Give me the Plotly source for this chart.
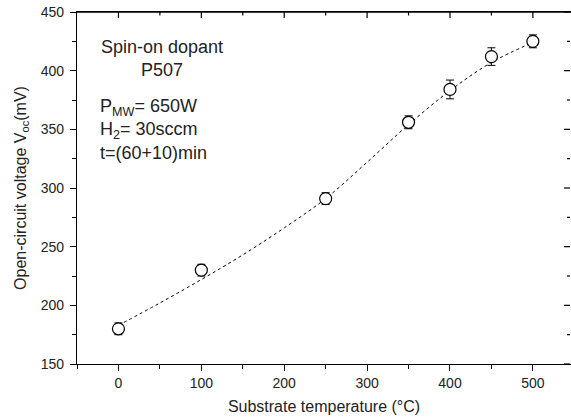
import plotly.graph_objects as go

# Measured data
temps = [0, 100, 250, 350, 400, 450, 500]
voc = [180, 230, 291, 356, 384, 412, 425]
voc_err = [5, 5, 5, 5.5, 8, 7.5, 5.5]

# Fitted curve
fit_x = [0, 50, 100, 150, 200, 250, 300, 350, 400, 450, 500]
fit_y = [183, 202, 222, 243, 266, 291, 322, 354, 383, 407, 424]

x_ticks = [0, 100, 200, 300, 400, 500]
x_minor = [50, 150, 250, 350, 450]
y_ticks = [150, 200, 250, 300, 350, 400, 450]
y_minor = [175, 225, 275, 325, 375, 425]

FONT = "Liberation Sans, Arial, sans-serif"
TXT = "#222222"

fig = go.Figure()
fig.add_trace(go.Scatter(
    x=fit_x, y=fit_y, mode="lines", line=dict(color="black", width=1, dash="dot", shape="spline"),
    showlegend=False, hoverinfo="skip"))
fig.add_trace(go.Scatter(
    x=temps, y=voc, mode="markers",
    marker=dict(symbol="circle", size=12, color="white", line=dict(width=1.2, color="black")),
    error_y=dict(type="data", array=voc_err, color="black", thickness=1, width=4),
    showlegend=False))

xr = [-50, 546]
yr = [150, 450]

fig.update_layout(
    width=571, height=419,
    margin=dict(l=77, r=0, t=12, b=55),
    paper_bgcolor="white", plot_bgcolor="white",
    font=dict(family=FONT, color=TXT, size=12),
    xaxis=dict(range=xr, tickvals=x_ticks, ticks="outside", ticklen=6, tickwidth=1.2, tickcolor="black",
               showline=True, mirror=True, linecolor="black", linewidth=1.3, showgrid=False, zeroline=False,
               automargin=False,
               minor=dict(dtick=50, tick0=0, ticks="outside", ticklen=3.5, tickwidth=1, tickcolor="black"),
               tickfont=dict(size=14, color=TXT),
               title=dict(text="Substrate temperature (°C)", font=dict(size=16, color=TXT), standoff=10)),
    yaxis=dict(range=yr, tickvals=y_ticks, ticks="outside", ticklen=6, tickwidth=1.2, tickcolor="black",
               showline=True, linecolor="black", linewidth=1.3, showgrid=False, zeroline=False,
               automargin=False, ticklabelstandoff=3, ticklabeloverflow="allow",
               minor=dict(dtick=25, tick0=0, ticks="outside", ticklen=3.5, tickwidth=1, tickcolor="black"),
               tickfont=dict(size=14, color=TXT),
               title=dict(text="Open-circuit voltage V<sub>oc</sub>(mV)", font=dict(size=16, color=TXT), standoff=10)),
)

# top frame line and inward ticks on the top and right edges
frame = dict(color="black", width=1.3)
fig.add_shape(type="line", xref="paper", yref="paper", x0=0, x1=1, y0=1, y1=1, line=frame, layer="above")
for v, ln in [(v, 6) for v in x_ticks] + [(v, 3.5) for v in x_minor]:
    fig.add_shape(type="line", xref="x", yref="paper", ysizemode="pixel", yanchor=1,
                  x0=v, x1=v, y0=0, y1=-ln, line=dict(color="black", width=1.2), layer="above")
for v, ln in [(v, 6) for v in y_ticks] + [(v, 3) for v in y_minor]:
    fig.add_shape(type="line", xref="paper", yref="y", xsizemode="pixel", xanchor=1,
                  x0=-1, x1=-1 - ln, y0=v, y1=v, line=dict(color="black", width=1.2), layer="above")

ann_font = dict(family=FONT, size=18, color=TXT)
fig.add_annotation(text="Spin-on dopant<br>P507", xref="paper", yref="paper", x=(162-77)/494, y=(364-58)/352,
                   showarrow=False, align="center", xanchor="center", yanchor="middle", font=ann_font)
fig.add_annotation(text="P<sub>MW</sub>= 650W<br>H<sub>2</sub>= 30sccm<br>t=(60+10)min", xref="paper", yref="paper",
                   x=(98-77)/494, y=(364-129)/352, showarrow=False, align="left", xanchor="left",
                   yanchor="middle", font=ann_font)

fig.write_html("out.html", config={"displayModeBar": False},
               post_script="document.body.style.margin='0';document.body.style.overflow='hidden';")
